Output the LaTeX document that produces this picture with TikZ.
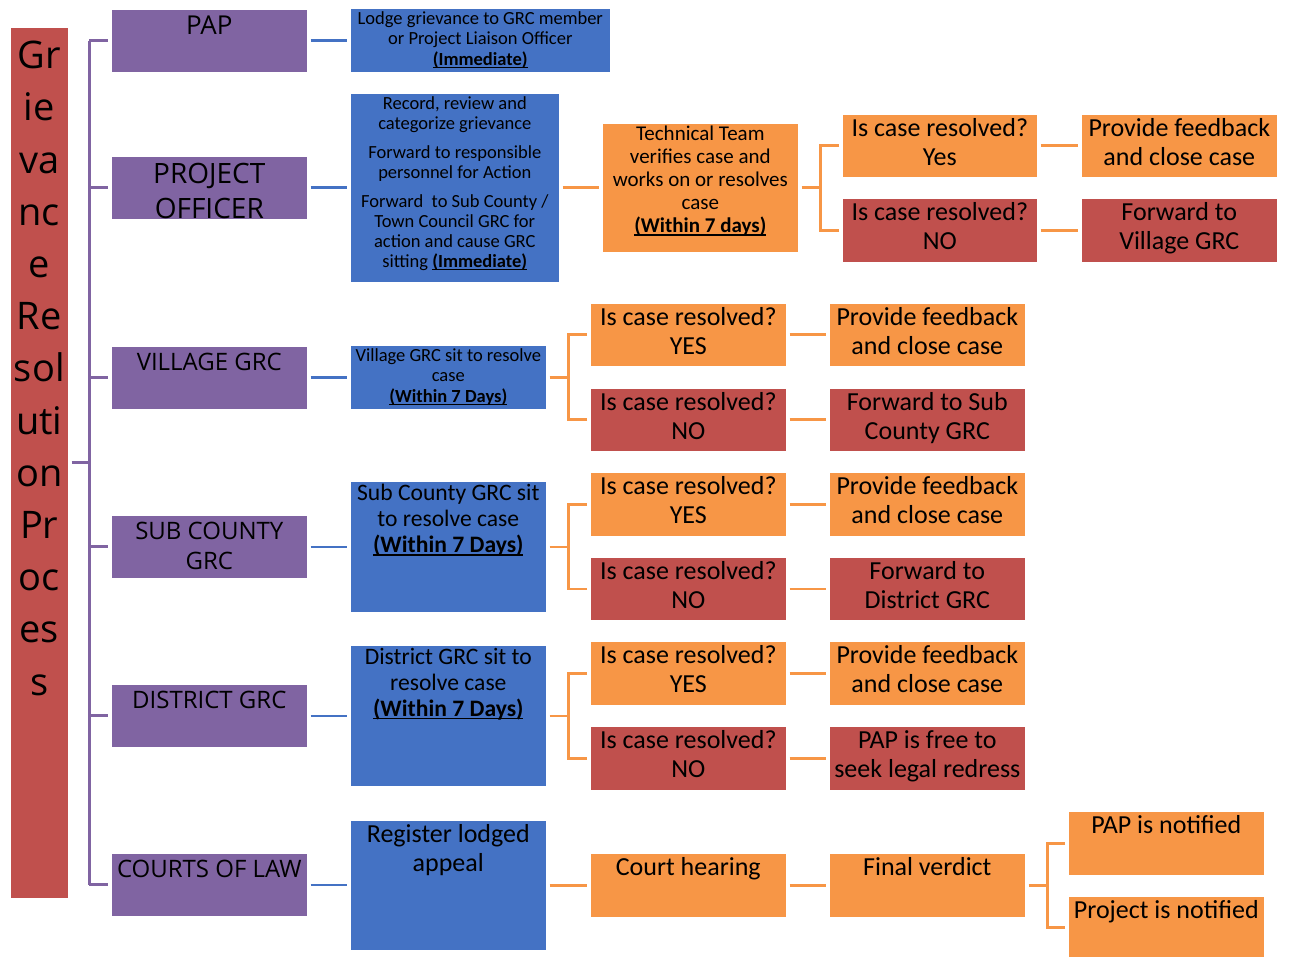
\documentclass[tikz,border=0pt]{standalone}
\usepackage{fontspec}
\setmainfont{Carlito}
\newfontfamily\headfont{Open Sans}
\newsavebox{\duebox}
\newcommand{\deadline}[1]{\sbox{\duebox}{\textbf{#1}}\rlap{\rule[-3pt]{\wd\duebox}{1.5pt}}\usebox{\duebox}}
\definecolor{grcpurple}{HTML}{8064A2}
\definecolor{grcblue}{HTML}{4472C4}
\definecolor{grcorange}{HTML}{F79646}
\definecolor{grcred}{HTML}{C0504D}
\begin{document}
\begin{tikzpicture}[x=1pt,y=-1pt]
    \tikzstyle{box}=[rectangle,anchor=north west,inner sep=0,draw=white,line width=0.6pt,minimum width=196pt,minimum height=63pt]
    \tikzset{
    level box/.style={box,fill=grcpurple},
    act box/.style={box,fill=grcblue},
    yes box/.style={box,fill=grcorange},
    no box/.style={box,fill=grcred},
    txt/.style={anchor=north,inner sep=4pt,align=center,text=black,font=\fontsize{26}{29}\selectfont},
    small txt/.style={txt,inner sep=3pt,font=\fontsize{18.5}{20.5}\selectfont},
    mid txt/.style={txt,inner sep=3pt,font=\fontsize{23.6}{26}\selectfont},
    team txt/.style={txt,inner sep=3pt,font=\fontsize{21}{23}\selectfont},
    head txt/.style={txt,inner sep=7pt,font=\headfont\fontsize{24}{30}\selectfont},
    title txt/.style={txt,inner sep=14pt,font=\headfont\fontsize{38}{52.2}\selectfont},
    link/.style={line width=2.6pt,shorten <=3pt,shorten >=3pt},
    plink/.style={link,line width=3pt,draw=grcpurple},
    blink/.style={link,draw=grcblue},
    olink/.style={link,draw=grcorange}
    }
    \useasboundingbox (0,0) rectangle (1294,957);

    \node[no box,minimum width=58pt,minimum height=871pt,
      label={[title txt]north:{Gr\\ie\\va\\nc\\e\\Re\\sol\\uti\\on\\Pr\\oc\\es\\s}}] (title) at (10,27) {};

    \node[level box,label={[head txt,font=\headfont\fontsize{26}{30}\selectfont]north:PAP}] (pap) at (111,9) {};
    \node[level box,label={[head txt,font=\headfont\fontsize{28}{35}\selectfont]north:{PROJECT\\OFFICER}}] (po) at (111,156) {};
    \node[level box,label={[head txt]north:{VILLAGE GRC}}] (vill) at (111,346) {};
    \node[level box,label={[head txt]north:{SUB COUNTY\\GRC}}] (subc) at (111,515) {};
    \node[level box,label={[head txt]north:{DISTRICT GRC}}] (dist) at (111,684) {};
    \node[level box,label={[head txt]north:{COURTS OF LAW}}] (courts) at (111,853) {};

    \node[act box,minimum width=260pt,minimum height=64pt,
      label={[small txt]north:{Lodge grievance to GRC member\\or Project Liaison Officer\\\deadline{(Immediate)}}}] (pap-act) at (350,8) {};
    \node[act box,minimum width=209pt,minimum height=189pt,
      label={[small txt,font=\fontsize{18.5}{20}\selectfont]north:{Record, review and\\categorize grievance\\[9pt]Forward to responsible\\personnel for Action\\[9pt]Forward\ \ to Sub County /\\Town Council GRC for\\action and cause GRC\\sitting \deadline{(Immediate)}}}] (po-act) at (350,93) {};
    \node[act box,minimum height=64pt,
      label={[small txt]north:{Village GRC sit to resolve\\case\\\deadline{(Within 7 Days)}}}] (v-act) at (350,345) {};
    \node[act box,minimum height=131pt,
      label={[mid txt]north:{Sub County GRC sit\\to resolve case\\\deadline{(Within 7 Days)}}}] (s-act) at (350,481) {};
    \node[act box,minimum height=141pt,
      label={[mid txt]north:{District GRC sit to\\resolve case\\\deadline{(Within 7 Days)}}}] (d-act) at (350,645) {};
    \node[act box,minimum height=130pt,
      label={[txt]north:{Register lodged\\appeal}}] (c-act) at (350,820) {};

    \node[yes box,minimum height=129pt,
      label={[team txt]north:{Technical Team\\verifies case and\\works on or resolves\\case\\\deadline{(Within 7 days)}}}] (t-act) at (602,123) {};
    \node[yes box,minimum width=195pt,label={[txt]north:{Is case resolved?\\Yes}}] (t-yes) at (842,114) {};
    \node[no box,minimum width=195pt,minimum height=64pt,label={[txt]north:{Is case resolved?\\NO}}] (t-no) at (842,198) {};
    \node[yes box,label={[txt]north:{Provide feedback\\and close case}}] (t-feed) at (1081,114) {};
    \node[no box,minimum height=64pt,label={[txt]north:{Forward to\\Village GRC}}] (t-next) at (1081,198) {};

    \node[yes box,label={[txt]north:{Is case resolved?\\YES}}] (v-yes) at (590,303) {};
    \node[no box,label={[txt]north:{Is case resolved?\\NO}}] (v-no) at (590,388) {};
    \node[yes box,label={[txt]north:{Provide feedback\\and close case}}] (v-feed) at (829,303) {};
    \node[no box,label={[txt]north:{Forward to Sub\\County GRC}}] (v-next) at (829,388) {};

    \node[yes box,minimum height=64pt,label={[txt]north:{Is case resolved?\\YES}}] (s-yes) at (590,472) {};
    \node[no box,label={[txt]north:{Is case resolved?\\NO}}] (s-no) at (590,557) {};
    \node[yes box,minimum height=64pt,label={[txt]north:{Provide feedback\\and close case}}] (s-feed) at (829,472) {};
    \node[no box,label={[txt]north:{Forward to\\District GRC}}] (s-next) at (829,557) {};

    \node[yes box,minimum height=64pt,label={[txt]north:{Is case resolved?\\YES}}] (d-yes) at (590,641) {};
    \node[no box,minimum height=64pt,label={[txt]north:{Is case resolved?\\NO}}] (d-no) at (590,726) {};
    \node[yes box,minimum height=64pt,label={[txt]north:{Provide feedback\\and close case}}] (d-feed) at (829,641) {};
    \node[no box,minimum height=64pt,label={[txt]north:{PAP is free to\\seek legal redress}}] (d-next) at (829,726) {};

    \node[yes box,minimum height=64pt,label={[txt]north:{Court hearing}}] (hearing) at (590,853) {};
    \node[yes box,minimum height=64pt,label={[txt]north:{Final verdict}}] (verdict) at (829,853) {};
    \node[yes box,minimum height=64pt,label={[txt]north:{PAP is notified}}] (pap-note) at (1068,811) {};
    \node[yes box,minimum height=62pt,label={[txt]north:{Project is notified}}] (proj-note) at (1068,896) {};

    \coordinate (trunk) at (89,0);
    \draw[plink,shorten >=0pt] (title.east) -- (trunk |- title.east);
    \draw[plink,shorten <=0pt,shorten >=0pt] (trunk |- pap.west) -- (trunk |- courts.west);
    \foreach \n in {pap,po,vill,subc,dist,courts}
      \draw[plink,shorten <=0pt] (trunk |- \n.west) -- (\n.west);

    \foreach \n/\m in {pap/pap-act,po/po-act,vill/v-act,subc/s-act,dist/d-act,courts/c-act}
      \draw[blink] (\n.east) -- (\n.east -| \m.west);

    \draw[olink] (po-act.east) -- (po-act.east -| t-act.west);
    \foreach \r in {t,v,s,d}{
      \coordinate (\r-fork) at ([xshift=22pt]\r-act.east);
      \draw[olink,shorten >=0pt] (\r-act.east) -- (\r-fork);
      \draw[olink,shorten >=0pt] (\r-yes.west) -| (\r-fork);
      \draw[olink,shorten >=0pt] (\r-no.west) -| (\r-fork);
      \draw[olink] (\r-yes.east) -- (\r-feed.west);
      \draw[olink] (\r-no.east) -- (\r-next.west);
    }

    \draw[olink] (c-act.east) -- (c-act.east -| hearing.west);
    \draw[olink] (hearing.east) -- (verdict.west);
    \coordinate (c-fork) at ([xshift=22pt]verdict.east);
    \draw[olink,shorten >=0pt] (verdict.east) -- (c-fork);
    \draw[olink,shorten >=0pt] (pap-note.west) -| (c-fork);
    \draw[olink,shorten >=0pt] (proj-note.west) -| (c-fork);
\end{tikzpicture}
\end{document}
